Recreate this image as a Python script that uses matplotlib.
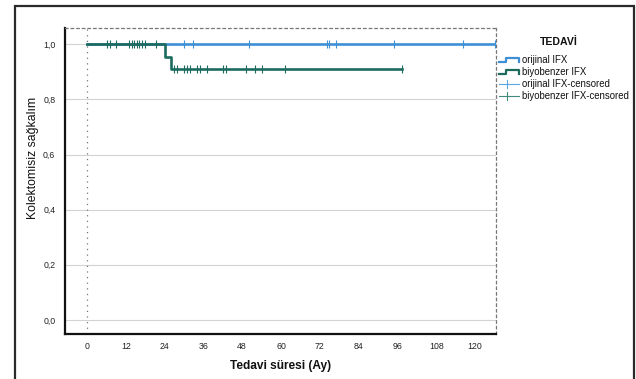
import numpy as np
import matplotlib
matplotlib.use("Agg")
import matplotlib.pyplot as plt
from matplotlib.lines import Line2D
from matplotlib.patches import Rectangle

plt.rcParams['font.family'] = ['Liberation Sans', 'DejaVu Sans']

# ---- data ----
group_names = ["orijinal IFX", "biyobenzer IFX"]
legend_labels = ["orijinal IFX", "biyobenzer IFX", "orijinal IFX-censored", "biyobenzer IFX-censored"]

orig_times = [0, 126.4]
orig_surv = [1.0, 1.0]
orig_censor = [30.0, 32.9, 50.1, 74.1, 75.0, 77.1, 95.0, 116.4, 126.2]

bio_times = [0, 24.0, 26.0, 97.3]
bio_surv = [1.0, 0.955, 0.909, 0.909]
bio_censor = [6.1, 7.1, 8.9, 13.1, 13.8, 14.5, 15.4, 16.2, 17.0, 18.0, 21.2,
              27.0, 27.9, 30.0, 30.8, 31.8, 34.1, 34.9, 37.1, 42.0, 43.1,
              49.1, 52.0, 54.0, 61.2, 97.3]

x_ticks = [0, 12, 24, 36, 48, 60, 72, 84, 96, 108, 120]
y_ticks = [0.0, 0.2, 0.4, 0.6, 0.8, 1.0]
y_ticklabels = ["0,0", "0,2", "0,4", "0,6", "0,8", "1,0"]

blue = "#3f8fd4"
green = "#1d6b5f"
blue_light = "#5aa6e0"
green_light = "#3f8a7c"

W, H = 636, 379
fig = plt.figure(figsize=(W / 100, H / 100), dpi=100)

def fx(x):
    return x / W

def fy(y):
    return 1 - y / H

ax_l, ax_r, ax_t, ax_b = 65, 496, 28, 334
ax = fig.add_axes([fx(ax_l), fy(ax_b), (ax_r - ax_l) / W, (ax_b - ax_t) / H])
ax.set_xlim(-6.8, 126.5)
ax.set_ylim(-0.051, 1.059)

for y in y_ticks:
    ax.axhline(y, color="#d3d3d3", lw=0.8, zorder=0)
ax.axvline(0, color="#777777", lw=0.9, ls=(0, (1, 3.5)), zorder=1)

def surv_at(times, surv, t):
    idx = np.searchsorted(times, t, side="right") - 1
    return np.asarray(surv)[idx]

ax.step(orig_times, orig_surv, where="post", color=blue, lw=1.9, zorder=3)
ax.plot(orig_censor, surv_at(orig_times, orig_surv, orig_censor), ls="none",
        marker="|", ms=5.5, mew=0.8, color=blue, zorder=3)
ax.step(bio_times, bio_surv, where="post", color=green, lw=1.9, zorder=4)
ax.plot(bio_censor, surv_at(bio_times, bio_surv, bio_censor), ls="none",
        marker="|", ms=5.5, mew=0.8, color=green, zorder=4)

ax.set_xticks(x_ticks)
ax.set_xticklabels([str(v) for v in x_ticks])
ax.set_yticks(y_ticks)
ax.set_yticklabels(y_ticklabels)
ax.tick_params(axis="both", length=0, labelsize=6.3, colors="#222222")
ax.tick_params(axis="x", pad=6)
ax.tick_params(axis="y", pad=7)

for s in ["left", "bottom"]:
    ax.spines[s].set_linewidth(1.6)
    ax.spines[s].set_color("#111111")
for s in ["top", "right"]:
    ax.spines[s].set_linewidth(0.9)
    ax.spines[s].set_color("#777777")
    ax.spines[s].set_linestyle((0, (2, 2.5)))

fig.text(fx(281), fy(366.5), "Tedavi süresi (Ay)", ha="center", va="center",
         fontsize=8.6, fontweight="bold", color="#111111")
fig.text(fx(33), fy(158), "Kolektomisiz sağkalım", ha="center", va="center",
         rotation=90, fontsize=8.8, color="#111111")

# legend
fig.text(fx(559), fy(42), "TEDAVİ", ha="center", va="center", fontsize=7.6,
         fontweight="bold", color="#111111")
ys = [60, 72, 84, 96]
for i, (lab, col) in enumerate(zip(legend_labels, [blue, green, blue_light, green_light])):
    y = ys[i]
    if i < 2:
        xs = [499, 506, 506, 519, 519]
        yy = [y + 2, y + 2, y - 2, y - 2, y + 2]
        fig.add_artist(Line2D([fx(v) for v in xs], [fy(v) for v in yy],
                              color=col, lw=1.6, transform=fig.transFigure))
    else:
        fig.add_artist(Line2D([fx(499), fx(519)], [fy(y), fy(y)], color=col,
                              lw=0.8, transform=fig.transFigure))
        fig.add_artist(Line2D([fx(507), fx(507)], [fy(y - 4), fy(y + 4)], color=col,
                              lw=0.8, transform=fig.transFigure))
    fig.text(fx(521.5), fy(y), lab, ha="left", va="center", fontsize=6.95, color="#111111")

# outer frame
fig.add_artist(Rectangle((fx(15), fy(390)), (634 - 15) / W, (390 - 6) / H,
                         fill=False, ec="#2a2a2a", lw=1.6, transform=fig.transFigure))

fig.savefig("out.png", dpi=100)
